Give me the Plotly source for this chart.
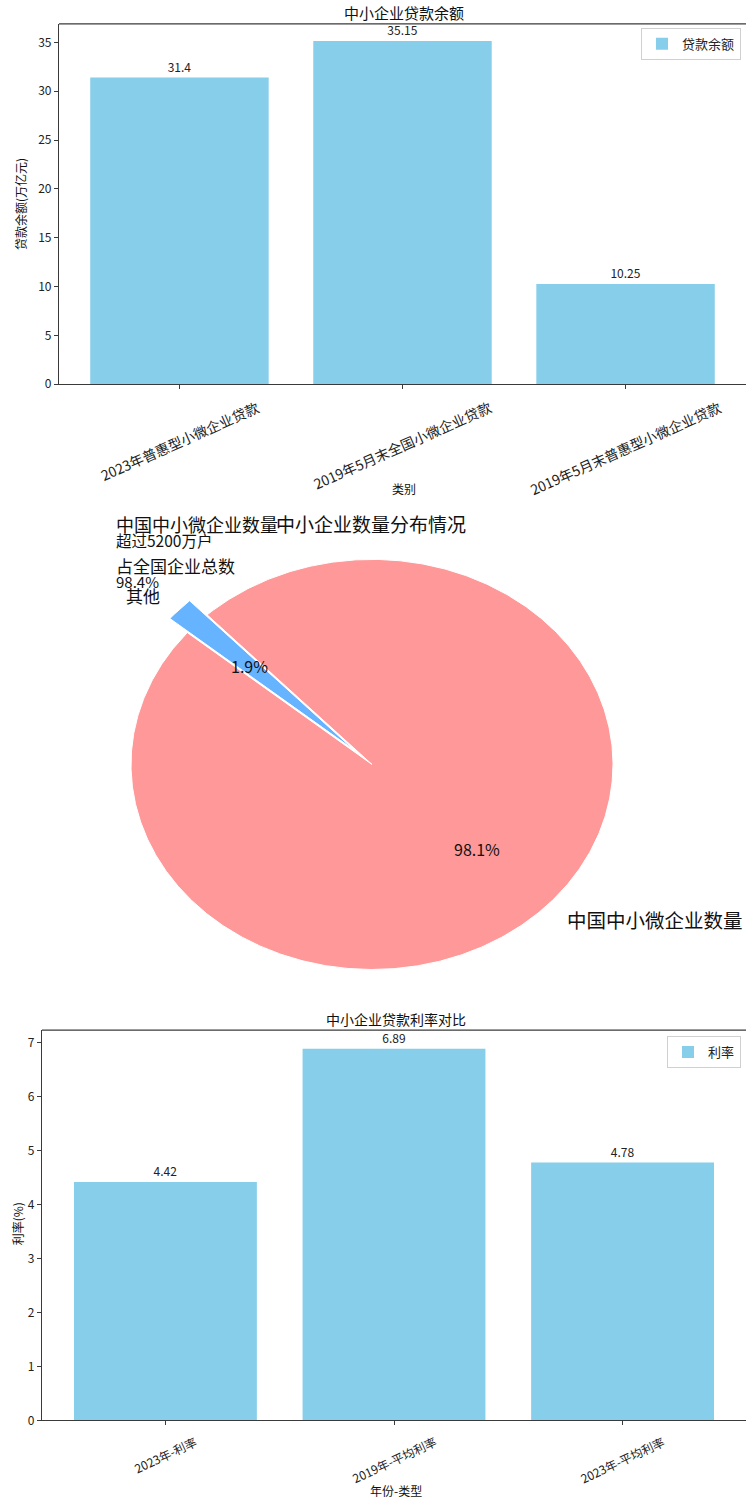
import numpy as np
import plotly.graph_objects as go

# ---------------- data ----------------
loan_categories = ["2023年普惠型小微企业贷款", "2019年5月末全国小微企业贷款", "2019年5月末普惠型小微企业贷款"]
loan_values = [31.4, 35.15, 10.25]
loan_series_name = "贷款余额"

pie_labels = ["中国中小微企业数量", "其他"]
pie_values = [98.1, 1.9]
pie_colors = ["#ff9999", "#66b3ff"]
pie_explode = [0, 0.1]
pie_note_lines = ["中国中小微企业数量", "超过5200万户", "占全国企业总数", "98.4%"]

rate_categories = ["2023年-利率", "2019年-平均利率", "2023年-平均利率"]
rate_values = [4.42, 6.89, 4.78]
rate_series_name = "利率"

titles = ["中小企业贷款余额", "中小企业数量分布情况", "中小企业贷款利率对比"]
x_titles = ["类别", "年份-类型"]
y_titles = ["贷款余额(万亿元)", "利率(%)"]

# ---------------- layout helpers ----------------
W, H = 746, 1509
FONT = "Noto Sans CJK SC, Noto Sans, sans-serif"
BAR_COLOR = "#87CEEB"
AX = "#3a3a3a"


def px(x):
    return x / W


def py(y):
    return (H - y) / H


fig = go.Figure()

# ---------- panel 1 bars ----------
fig.add_trace(go.Bar(
    x=loan_categories, y=loan_values, name=loan_series_name,
    marker=dict(color=BAR_COLOR, line=dict(width=0)), width=0.8,
    texttemplate="%{y}", textposition="outside", cliponaxis=False,
    textfont=dict(size=12, color="#222"), constraintext="none",
    xaxis="x", yaxis="y", legend="legend",
))

# ---------- panel 3 bars ----------
fig.add_trace(go.Bar(
    x=rate_categories, y=rate_values, name=rate_series_name,
    marker=dict(color=BAR_COLOR, line=dict(width=0)), width=0.8,
    texttemplate="%{y}", textposition="outside", cliponaxis=False,
    textfont=dict(size=12, color="#222"), constraintext="none",
    xaxis="x3", yaxis="y3", legend="legend2",
))

# ---------- panel 2 pie (wedges on unequal-aspect axes, like the reference) ----------
start_angle = 140.0
total = float(sum(pie_values))
theta = start_angle
annotations = []
for lab, val, col, ex in zip(pie_labels, pie_values, pie_colors, pie_explode):
    span = 360.0 * val / total
    t0, t1 = theta, theta + span
    mid = np.deg2rad((t0 + t1) / 2)
    cx, cy = ex * np.cos(mid), ex * np.sin(mid)
    n = max(3, int(span * 2) + 1)
    ang = np.deg2rad(np.linspace(t0, t1, n))
    xs = np.concatenate([[cx], cx + np.cos(ang), [cx]])
    ys = np.concatenate([[cy], cy + np.sin(ang), [cy]])
    fig.add_trace(go.Scatter(
        x=xs, y=ys, mode="lines", fill="toself", fillcolor=col,
        line=dict(color="white", width=1), showlegend=False, hoverinfo="text",
        text=lab, xaxis="x2", yaxis="y2",
    ))
    pct = f"{100 * val / total:.1f}%"
    annotations.append(dict(
        x=cx + 0.6 * np.cos(mid), y=cy + 0.6 * np.sin(mid), xref="x2", yref="y2",
        text=pct, showarrow=False, xanchor="center", yanchor="middle",
        font=dict(size=16, color="#111", family=FONT),
    ))
    lx, ly = cx + 1.1 * np.cos(mid), cy + 1.1 * np.sin(mid)
    annotations.append(dict(
        x=lx, y=ly, xref="x2", yref="y2", text=lab, showarrow=False,
        xanchor="left" if lx > 0 else "right", yanchor="middle",
        font=dict(size=19.5 if lx > 0 else 17, color="#111", family=FONT),
    ))
    theta = t1

# pie notes (top-left)
note_y = [526, 543, 568, 584]
note_size = [18, 15.5, 17, 15]
for txt, yy, fs in zip(pie_note_lines, note_y, note_size):
    annotations.append(dict(
        x=px(114), y=py(yy), xref="paper", yref="paper", text=txt, showarrow=False,
        xanchor="left", yanchor="middle", font=dict(size=fs, color="#111", family=FONT),
    ))

# titles
annotations.append(dict(x=px(404), y=py(13), xref="paper", yref="paper", text=titles[0],
                        showarrow=False, xanchor="center", yanchor="middle",
                        font=dict(size=15, color="#111", family=FONT)))
annotations.append(dict(x=px(371), y=py(526), xref="paper", yref="paper", text=titles[1],
                        showarrow=False, xanchor="center", yanchor="middle",
                        font=dict(size=19, color="#111", family=FONT)))
annotations.append(dict(x=px(396), y=py(1024), xref="paper", yref="paper", text=titles[2],
                        showarrow=False, xanchor="center", yanchor="middle",
                        font=dict(size=14, color="#111", family=FONT)))

# axis titles
annotations.append(dict(x=px(404), y=py(491), xref="paper", yref="paper", text=x_titles[0],
                        showarrow=False, xanchor="center", yanchor="middle",
                        font=dict(size=12, color="#111", family=FONT)))
annotations.append(dict(x=px(396), y=py(1497), xref="paper", yref="paper", text=x_titles[1],
                        showarrow=False, xanchor="center", yanchor="middle",
                        font=dict(size=12, color="#111", family=FONT)))
annotations.append(dict(x=px(20), y=py(205), xref="paper", yref="paper", text=y_titles[0],
                        showarrow=False, xanchor="center", yanchor="middle", textangle=-90,
                        font=dict(size=12, color="#111", family=FONT)))
annotations.append(dict(x=px(17), y=py(1230), xref="paper", yref="paper", text=y_titles[1],
                        showarrow=False, xanchor="center", yanchor="middle", textangle=-90,
                        font=dict(size=12, color="#111", family=FONT)))

# rotated x tick labels, centred under each tick
for c in loan_categories:
    annotations.append(dict(x=c, y=py(396), xref="x", yref="paper", text=c, showarrow=False,
                            xanchor="center", yanchor="top", textangle=-24,
                            font=dict(size=14, color="#222", family=FONT)))
for c in rate_categories:
    annotations.append(dict(x=c, y=py(1437), xref="x3", yref="paper", text=c, showarrow=False,
                            xanchor="center", yanchor="top", textangle=-25,
                            font=dict(size=12, color="#222", family=FONT)))

# ---------- axes ----------
tickfont = dict(size=12, color="#222", family=FONT)
common_x = dict(showline=True, linecolor=AX, linewidth=1.2, ticks="outside", ticklen=4,
                tickcolor=AX, showticklabels=False, showgrid=False, zeroline=False,
                type="category", fixedrange=True)
common_y = dict(showline=True, linecolor=AX, linewidth=1.2, ticks="outside", ticklen=4,
                tickcolor=AX, tickfont=tickfont, showgrid=False, zeroline=False, fixedrange=True)

fig.update_layout(
    width=W, height=H,
    margin=dict(l=0, r=0, t=0, b=0),
    paper_bgcolor="white", plot_bgcolor="white",
    font=dict(family=FONT, color="#222"),
    bargap=0.2,
    xaxis=dict(domain=[px(59), 1.0], range=[-0.54, 2.54], anchor="y", **common_x),
    yaxis=dict(domain=[py(386), py(24)], range=[0, 36.9], dtick=5, anchor="x", **common_y),
    xaxis2=dict(domain=[0, 1], range=[-372 / 241, (W - 372) / 241], visible=False,
                anchor="y2", fixedrange=True),
    yaxis2=dict(domain=[py(1000), py(500)], range=[(768 - 1000) / 206, (768 - 500) / 206],
                visible=False, anchor="x2", fixedrange=True),
    xaxis3=dict(domain=[px(42), 1.0], range=[-0.54, 2.54], anchor="y3", **common_x),
    yaxis3=dict(domain=[py(1427), py(1035)], range=[0, 7.2345], dtick=1, anchor="x3", **common_y),
    legend=dict(x=px(741), y=py(28), xanchor="right", yanchor="top",
                bgcolor="white", bordercolor="#d0d0d0", borderwidth=1,
                font=dict(size=13, color="#222", family=FONT), itemwidth=30),
    legend2=dict(x=px(741), y=py(1041), xanchor="right", yanchor="top",
                 bgcolor="white", bordercolor="#d0d0d0", borderwidth=1,
                 font=dict(size=13, color="#222", family=FONT), itemwidth=30),
    annotations=annotations,
    shapes=[
        dict(type="line", xref="x domain", yref="y domain", x0=0, x1=1, y0=1, y1=1,
             line=dict(color=AX, width=1.2)),
        dict(type="line", xref="x3 domain", yref="y3 domain", x0=0, x1=1, y0=1, y1=1,
             line=dict(color=AX, width=1.2)),
    ],
    showlegend=True,
)

fig.write_html(
    "out.html",
    config={"displayModeBar": False},
    post_script="document.body.style.margin='0';document.body.style.overflow='hidden';",
)
